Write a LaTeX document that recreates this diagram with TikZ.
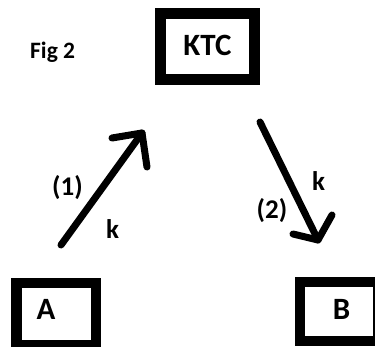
\documentclass[tikz,border=0pt]{standalone}
\usepackage{fontspec}
\setmainfont{Carlito}
\begin{document}
\begin{tikzpicture}[x=1pt,y=-1pt,
  frame/.style={draw=black,line width=10.5pt,line join=miter},
  bigtext/.style={font=\bfseries\fontsize{31}{31}\selectfont,inner sep=0pt},
  smalltext/.style={font=\bfseries\fontsize{27}{27}\selectfont,inner sep=0pt},
  captext/.style={font=\bfseries\fontsize{23.5}{23.5}\selectfont,inner sep=0pt},
  hand/.style={line width=7pt,line cap=round,line join=round}]
\clip (0,0) rectangle (375,346);
\fill[white] (0,0) rectangle (375,346);

% caption
\node[captext,anchor=base west] (fig) at (30,58) {Fig 2};

% the three framed boxes
\draw[frame] (160.5,13.5) rectangle (254.5,79.5);
\node[bigtext] (ktc) at (207.5,45) {KTC};
\draw[frame] (16.5,283) rectangle (96,345.5);
\node[bigtext] (a) at (46,309) {A};
\draw[frame] (300,282) rectangle (378,341);
\node[bigtext] (b) at (341.5,309.5) {B};

% step (1): from A up towards KTC
\coordinate (s1) at (61,245);
\coordinate (t1) at (142,133);
\coordinate (l1) at (112,138);
\coordinate (r1) at (147,167);
\draw[hand] (s1) -- (t1);
\draw[hand] (l1) -- (t1) -- (r1);
\node[smalltext,anchor=base] (n1) at (67.5,195) {(1)};
\node[smalltext,anchor=base] (k1) at (112.5,238) {k};

% step (2): from KTC down towards B
\coordinate (s2) at (260,122);
\coordinate (t2) at (318,240);
\coordinate (l2) at (293,234);
\coordinate (r2) at (332,215);
\draw[hand] (s2) -- (t2);
\draw[hand] (l2) -- (t2) -- (r2);
\node[smalltext,anchor=base] (n2) at (272,218) {(2)};
\node[smalltext,anchor=base] (k2) at (318.5,190) {k};
\end{tikzpicture}
\end{document}
